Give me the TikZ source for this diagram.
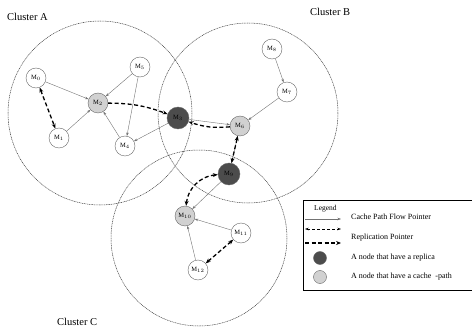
\documentclass[tikz,border=0pt]{standalone}
\usepackage{fontspec}
\setmainfont{Liberation Serif}
\usetikzlibrary{arrows.meta}
\begin{document}
\begin{tikzpicture}[x=1pt,y=-1pt,
  cluster/.style={draw=black!75,line width=0.5pt,dash pattern=on 1pt off 0.7pt},
  mnode/.style={circle,draw=black!60,line width=0.4pt,fill=white,minimum size=20pt,inner sep=0pt,font=\fontsize{6.5}{6.5}\selectfont},
  cachenode/.style={mnode,fill=black!18},
  repnode/.style={mnode,fill=black!70,minimum size=22pt},
  flow/.style={draw=black!55,line width=0.4pt,-{Stealth[length=3.5pt,width=2.5pt]}},
  rep/.style={draw=black,line width=1.3pt,dash pattern=on 4pt off 2.5pt,-{Stealth[length=5pt,width=4pt]}},
  repb/.style={rep,{Stealth[length=5pt,width=4pt]}-{Stealth[length=5pt,width=4pt]}},
  lbl/.style={font=\fontsize{8}{8}\selectfont,anchor=west,inner sep=0pt}]
\useasboundingbox (0,0) rectangle (472,329);
% clusters
\draw[cluster] (100,113) circle (92);
\draw[cluster] (248,113) circle (90);
\draw[cluster] (199,238) circle (88);
\node[font=\fontsize{10.5}{10.5}\selectfont,anchor=west,inner sep=0pt] (ca) at (7,17) {Cluster A};
\node[font=\fontsize{10.5}{10.5}\selectfont,anchor=west,inner sep=0pt] (cb) at (310,12) {Cluster B};
\node[font=\fontsize{10.5}{10.5}\selectfont,anchor=west,inner sep=0pt] (cc) at (57,322) {Cluster C};
% nodes
\node[mnode] (m0) at (36,78) {M$_0$};
\node[mnode] (m1) at (59,138) {M$_1$};
\node[cachenode] (m2) at (98,103) {M$_2$};
\node[repnode] (m3) at (178,118) {M$_3$};
\node[mnode] (m4) at (125,146) {M$_4$};
\node[mnode] (m5) at (140,67) {M$_5$};
\node[cachenode] (m6) at (240,126) {M$_6$};
\node[mnode] (m7) at (287,92) {M$_7$};
\node[mnode] (m8) at (272,49) {M$_8$};
\node[repnode] (m9) at (229,174) {M$_9$};
\node[cachenode] (m10) at (185,216) {M$_{10}$};
\node[mnode] (m11) at (241,233) {M$_{11}$};
\node[mnode] (m12) at (198,270) {M$_{12}$};
% flow pointers
\draw[flow] (m0) -- (m2);
\draw[flow] (m5) -- (m2);
\draw[flow] (m5) -- (m4);
\draw[flow] (m1) -- (m2);
\draw[flow] (m4) -- (m2);
\draw[flow] (m3) -- (m4);
\draw[flow] (m3) -- (m6);
\draw[flow] (m8) -- (m7);
\draw[flow] (m7) -- (m6);
\draw[flow] (m9) -- (m6);
\draw[flow] (m9) -- (m10);
\draw[flow] (m11) -- (m10);
\draw[flow] (m12) -- (m10);
% replication pointers
\draw[repb] (m0) -- (m1);
\draw[rep] (m2) to[bend left=10] (m3);
\draw[rep] (m6) to[bend left=12] (m3);
\draw[repb] (m6) -- (m9);
\draw[repb] (m10) to[bend left=40] (m9);
\draw[repb] (m11) -- (m12);
% legend
\draw[line width=0.6pt] (303,290) -- (303,200) -- (472,200);
\draw[line width=0.6pt] (303,290) -- (472,290);
\node[lbl,font=\fontsize{7.5}{7.5}\selectfont] (lg) at (314,209) {Legend};
\coordinate (l1a) at (305,219); \coordinate (l1b) at (341,219);
\draw[flow] (l1a) -- (l1b);
\node[lbl] (t1) at (351,217) {Cache Path Flow Pointer};
\coordinate (l2a) at (305,229); \coordinate (l2b) at (341,229);
\draw[flow,{Stealth[length=3.5pt,width=2.5pt]}-{Stealth[length=3.5pt,width=2.5pt]},dash pattern=on 3pt off 2pt,line width=0.6pt,draw=black] (l2a) -- (l2b);
\coordinate (l3a) at (305,243); \coordinate (l3b) at (341,243);
\draw[rep] (l3a) -- (l3b);
\node[lbl] (t3) at (351,238) {Replication Pointer};
\node[repnode,minimum size=13pt] (lr) at (320,258) {};
\node[lbl] (t4) at (351,258) {A node that have a replica};
\node[cachenode,minimum size=13pt] (lc) at (320,277) {};
\node[lbl] (t5) at (351,277) {A node that have a cache \ -path};
\end{tikzpicture}
\end{document}
